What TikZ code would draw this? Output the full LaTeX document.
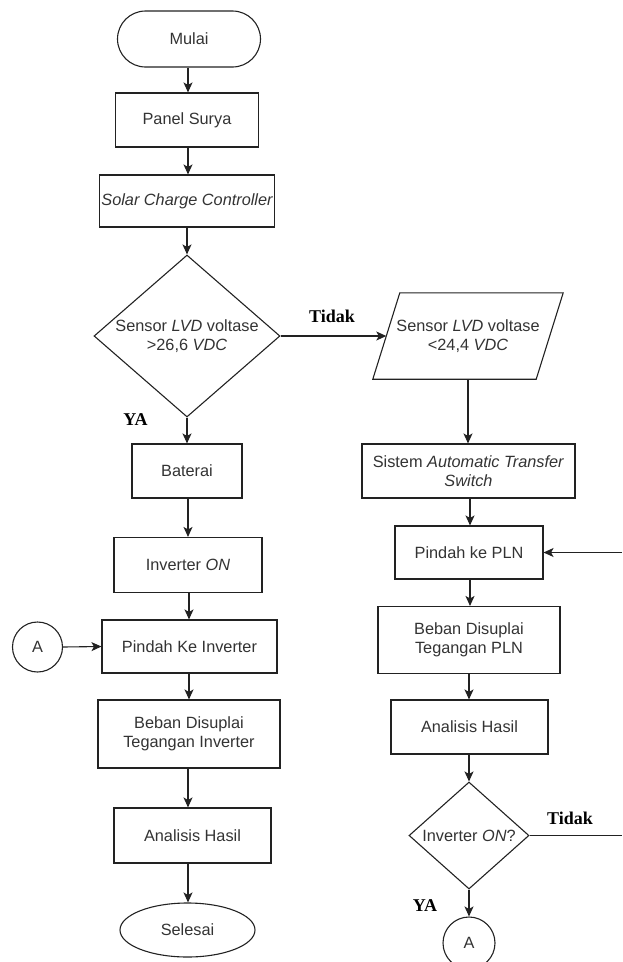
\documentclass[tikz,border=0pt]{standalone}
\usepackage{fontspec}
\setmainfont{Liberation Sans}
\newfontfamily\lblfont{Liberation Serif}
\usetikzlibrary{shapes.geometric,arrows.meta}
\definecolor{linec}{HTML}{222222}
\definecolor{txtc}{HTML}{333333}
\begin{document}
\begin{tikzpicture}[x=1pt,y=-1pt,
  every node/.style={font=\fontsize{16.3}{19.5}\selectfont, text=txtc, align=center},
  box/.style={draw=linec, line width=1.1pt, rectangle, inner sep=2pt},
  dia/.style={draw=linec, line width=1.1pt, diamond, inner sep=0pt},
  circ/.style={draw=linec, line width=1.1pt, circle, minimum size=50pt, inner sep=0pt},
  lbl/.style={font=\lblfont\bfseries\fontsize{18}{20}\selectfont, text=black},
  arr/.style={draw=linec, line width=1.1pt, -{Stealth[length=10pt,width=9pt,inset=2.5pt]}},
  ln/.style={draw=linec, line width=1.1pt}
]
\useasboundingbox (0,0) rectangle (622,962);
% left column
\node[box, rounded corners=28pt, minimum width=143pt, minimum height=56pt] (m) at (189,39) {Mulai};
\node[box, minimum width=143pt, minimum height=54pt] (ps) at (187,120) {Panel Surya};
\node[box, minimum width=175pt, minimum height=52pt] (scc) at (187,201) {\itshape Solar Charge Controller};
\node[dia, minimum width=186pt, minimum height=162pt] (d1) at (187,336) {};
\node (d1t) at (187,336) {Sensor \textit{LVD} voltase\\>26,6 \textit{VDC}};
\node[box, minimum width=110pt, minimum height=54pt] (bat) at (187,471) {Baterai};
\node[box, minimum width=148pt, minimum height=55pt] (inv) at (188,565) {Inverter \textit{ON}};
\node[box, minimum width=175pt, minimum height=53pt] (pki) at (189.5,646.5) {Pindah Ke Inverter};
\node[circ] (a1) at (37.5,647) {A};
\node[box, minimum width=182pt, minimum height=68pt] (bdi) at (189,734) {Beban Disuplai\\Tegangan Inverter};
\node[box, minimum width=157pt, minimum height=55pt] (ah1) at (192.5,835.5) {Analisis Hasil};
\node[draw=linec, line width=1.1pt, ellipse, minimum width=135pt, minimum height=54pt, inner sep=0pt] (sel) at (187.5,930) {Selesai};
% right column
\node[rectangle, minimum width=163pt, minimum height=86pt, inner sep=0pt] (p1) at (468,336) {Sensor \textit{LVD} voltase\\<24,4 \textit{VDC}};
\draw[ln, line join=miter] ([xshift=13.5pt]p1.north west) -- ([xshift=13.5pt]p1.north east)
  -- ([xshift=-13.5pt]p1.south east) -- ([xshift=-13.5pt]p1.south west) -- cycle;
\node[box, minimum width=213pt, minimum height=54pt] (ats) at (468.5,471) {Sistem \textit{Automatic Transfer}\\\textit{Switch}};
\node[box, minimum width=148pt, minimum height=53pt] (pln) at (469,552.5) {Pindah ke PLN};
\node[box, minimum width=182pt, minimum height=67pt] (bpln) at (469,640) {Beban Disuplai\\Tegangan PLN};
\node[box, minimum width=157pt, minimum height=54pt] (ah2) at (469.5,727) {Analisis Hasil};
\node[dia, minimum width=120pt, minimum height=107pt] (d2) at (469,835.5) {};
\node (d2t) at (469,835.5) {Inverter \textit{ON}?};
\node[circ, minimum size=52pt] (a2) at (469,943) {A};
\coordinate (e1) at (622,835.5);
\coordinate (e2) at (622,552.5);
% labels
\node[lbl] (t1) at (332,316) {Tidak};
\node[lbl] (y1) at (135.5,420) {YA};
\node[lbl] (t2) at (570,818) {Tidak};
\node[lbl] (y2) at (425,906) {YA};
% connectors left
\draw[arr] (m.south -| 188,0) -- (ps.north -| 188,0);
\draw[arr] (ps.south -| 188,0) -- (scc.north -| 188,0);
\draw[arr] (scc.south -| 187,0) -- (d1.north);
\draw[arr] (d1.south) -- (bat.north -| d1.south);
\draw[arr] (bat.south -| 188,0) -- (inv.north -| 188,0);
\draw[arr] (inv.south -| 189,0) -- (pki.north -| 189,0);
\draw[arr] (a1.east) -- (pki.west);
\draw[arr] (pki.south -| 189,0) -- (bdi.north -| 189,0);
\draw[arr] (bdi.south -| 188,0) -- (ah1.north -| 188,0);
\draw[arr] (ah1.south -| 188,0) -- (sel.north -| 188,0);
% connectors right
\draw[arr] (d1.east) -- (p1.west);
\draw[arr] (p1.south -| 468,0) -- (ats.north -| 468,0);
\draw[arr] (ats.south -| 470,0) -- (pln.north -| 470,0);
\draw[arr] (pln.south -| 470,0) -- (bpln.north -| 470,0);
\draw[arr] (bpln.south -| 469,0) -- (ah2.north -| 469,0);
\draw[arr] (ah2.south -| 469,0) -- (d2.north);
\draw[arr] (d2.south) -- (a2.north);
\draw[ln] (d2.east) -- (e1);
\draw[arr] (e2) -- (pln.east);
\end{tikzpicture}
\end{document}
